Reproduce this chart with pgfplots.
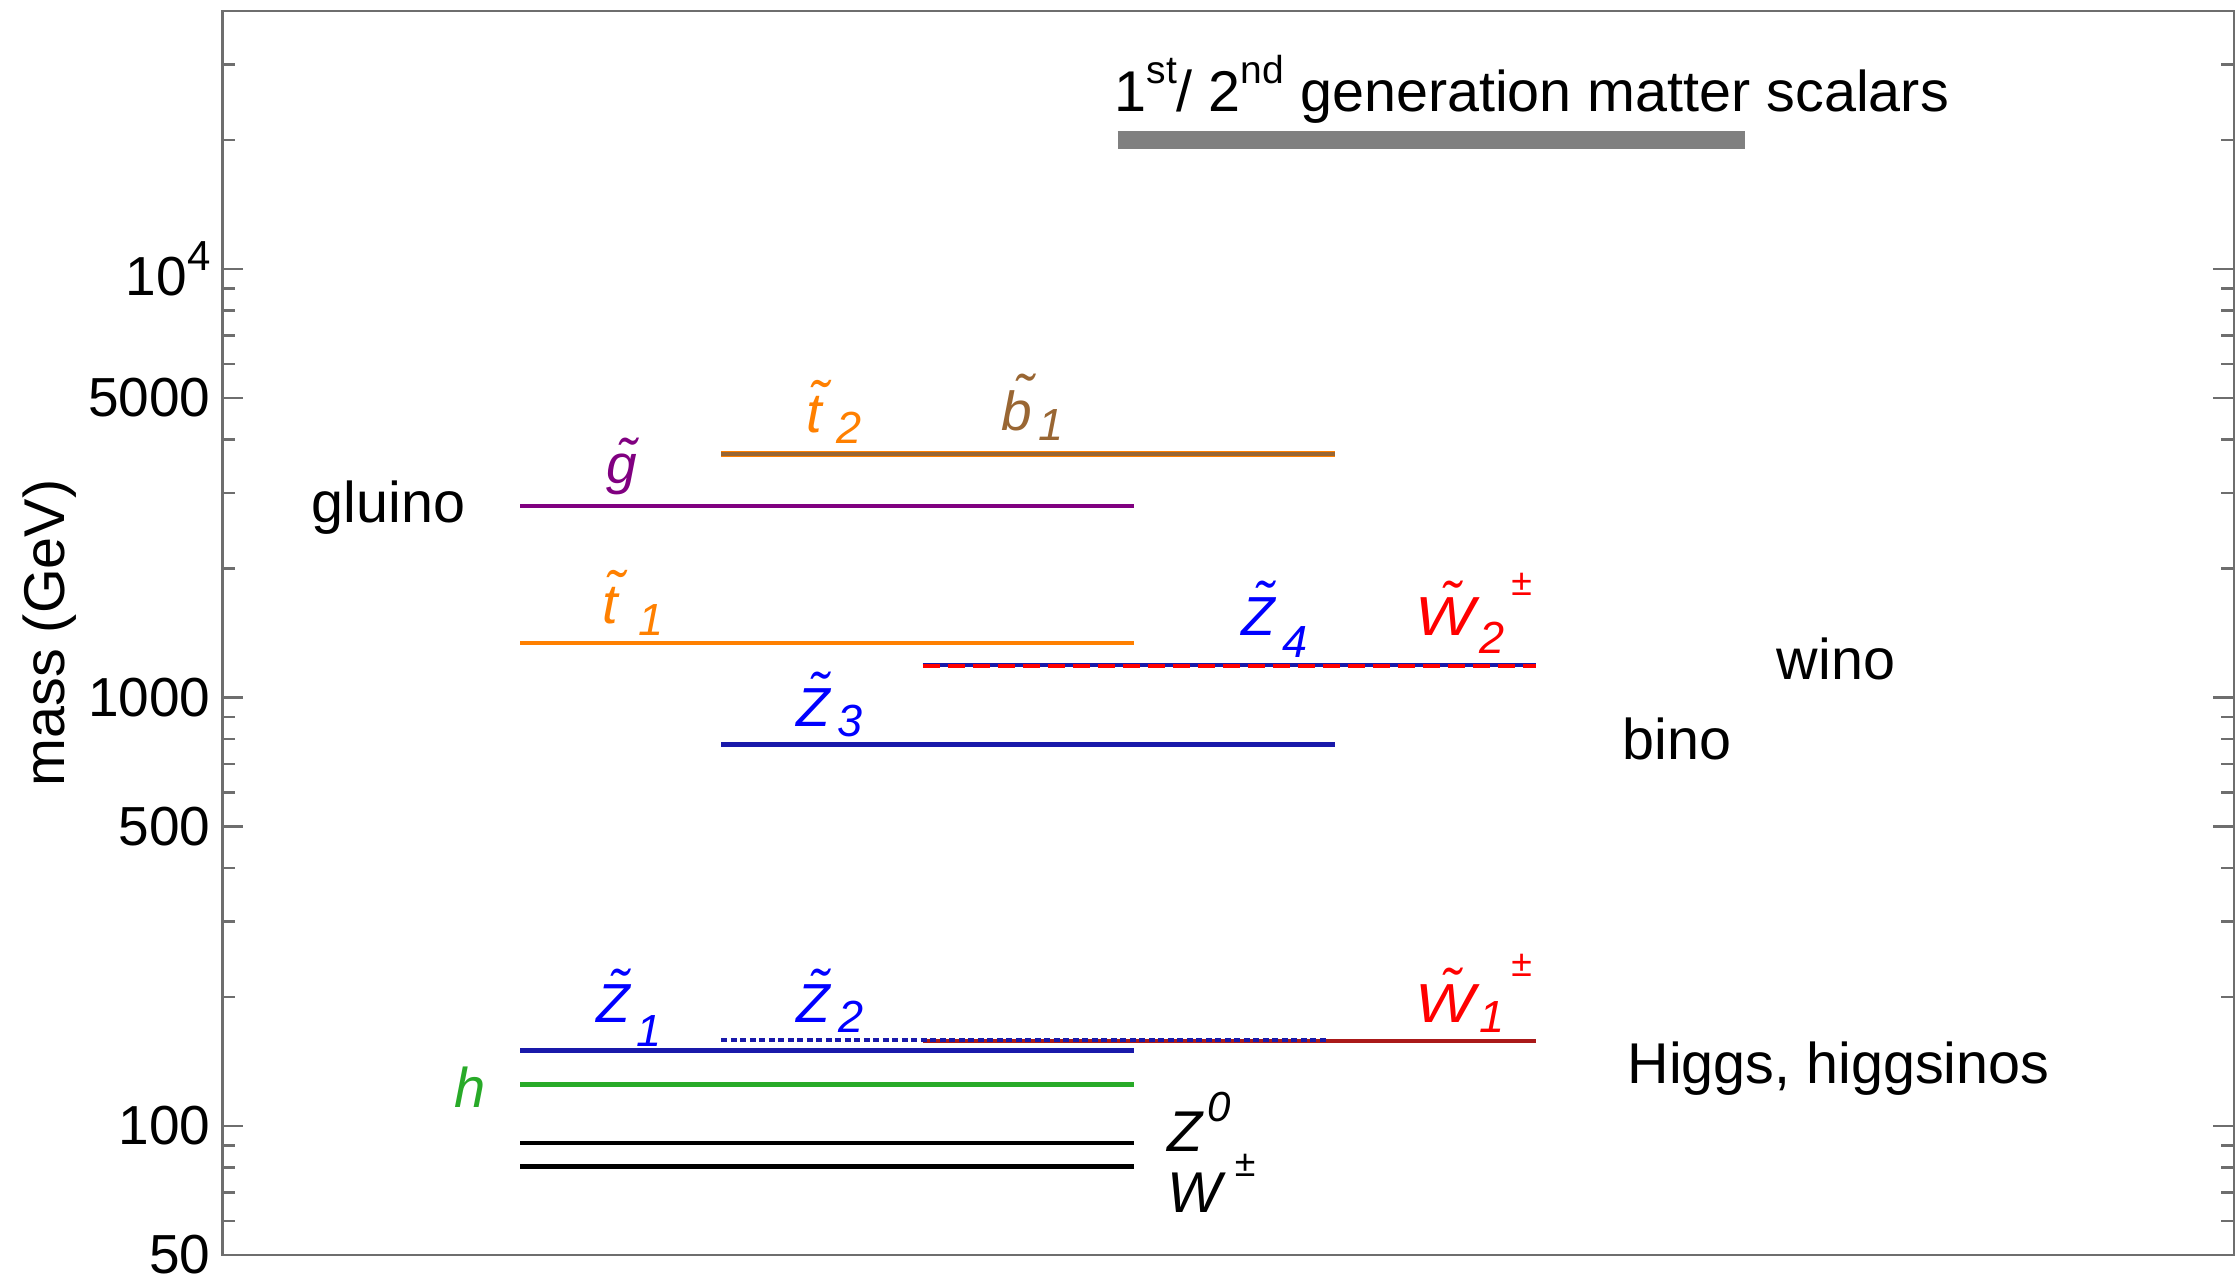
\documentclass[border=0pt]{standalone}
\usepackage{fontspec}
\setmainfont{Liberation Sans}
\usepackage{pgfplots}
\pgfplotsset{compat=1.18}

\definecolor{framegray}{RGB}{110,110,110}
\definecolor{scalargray}{RGB}{128,128,128}
\definecolor{zblue}{RGB}{0,0,255}
\definecolor{zline}{RGB}{25,25,170}
\definecolor{wred}{RGB}{255,0,0}
\definecolor{wline}{RGB}{170,25,25}
\definecolor{torange}{RGB}{255,128,0}
\definecolor{bbrown}{RGB}{153,102,51}
\definecolor{gpurple}{RGB}{128,0,128}
\definecolor{hgreen}{RGB}{40,170,40}

% letter with a tilde set above it
\newcommand{\tl}[1]{\leavevmode\setbox0\hbox{#1}%
  \rlap{\copy0}\hbox to \wd0{\hss\kern0.3\ht0\raisebox{\dimexpr\ht0-1ex+1.2pt\relax}{\char"02DC}\hss}}
% particle label: tilde letter, subscript shifted by #2, dropped by #3
\newcommand{\sparticle}[4]{\rlap{\tl{#1}}\hspace{#2}\raisebox{-#3}{\fontsize{9}{10}\selectfont #4}}
% charge sign placed #1 from the start of the label, raised by #2
\newcommand{\charge}[2]{\rlap{\hspace{#1}\raisebox{#2}{\fontsize{7.5}{8}\selectfont\upshape\char"00B1}}}
\newcommand{\wideW}{\scalebox{1.15}[1]{W}}

\begin{document}
\begin{tikzpicture}
\begin{semilogyaxis}[
  name=ax,
  scale only axis,
  width=402.3pt, height=248.8pt,
  xmin=0, xmax=10, ymin=50, ymax=40000,
  no markers,
  clip=false,
  xtick=\empty,
  ytick={50,100,500,1000,5000,10000},
  yticklabels={50,100,500,1000,5000,{10\raisebox{5pt}{\fontsize{8.4}{9}\selectfont 4}}},
  minor ytick={60,70,80,90,200,300,400,600,700,800,900,2000,3000,4000,6000,7000,8000,9000,20000,30000},
  tick align=inside,
  ytick pos=both,
  yticklabel pos=left,
  major tick length=4.2pt,
  minor tick length=2.6pt,
  axis line style={framegray, line width=0.5pt},
  every tick/.style={framegray, line width=0.5pt},
  yticklabel style={font=\fontsize{11}{13}\selectfont, inner sep=0pt, xshift=-2.2pt},
]

% 1st/2nd generation matter scalars
\addplot[scalargray, line width=3.6pt] coordinates {(4.45,20000) (7.57,20000)};

% third generation squarks
\addplot[torange, line width=1.3pt] coordinates {(2.48,3700) (5.53,3700)};
\addplot[bbrown, line width=0.8pt] coordinates {(2.48,3700) (5.53,3700)};
\addplot[torange, line width=0.9pt] coordinates {(1.48,1340) (4.53,1340)};

% gluino
\addplot[gpurple, line width=0.9pt] coordinates {(1.48,2800) (4.53,2800)};

% heavy neutralinos and chargino
\addplot[zline, line width=0.9pt] coordinates {(3.48,1192) (6.53,1192)};
\addplot[wred, line width=0.9pt, dash pattern=on 3.4pt off 1.6pt] coordinates {(3.48,1186) (6.53,1186)};
\addplot[zline, line width=0.9pt] coordinates {(2.48,777) (5.53,777)};

% light higgsinos
\addplot[wline, line width=0.9pt] coordinates {(3.48,158) (6.53,158)};
\addplot[zline, line width=0.8pt, dash pattern=on 1.2pt off 0.7pt] coordinates {(2.48,158.5) (5.50,158.5)};
\addplot[zline, line width=0.9pt] coordinates {(1.48,150) (4.53,150)};

% Higgs and gauge bosons
\addplot[hgreen, line width=0.9pt] coordinates {(1.48,125) (4.53,125)};
\addplot[black, line width=0.9pt] coordinates {(1.48,91.2) (4.53,91.2)};
\addplot[black, line width=0.9pt] coordinates {(1.48,80.4) (4.53,80.4)};

% particle labels
\begin{scope}[every node/.style={anchor=base west, inner sep=0pt}]
\node[text=gpurple, font=\fontsize{11}{13}\selectfont\itshape] at (axis cs:1.906,3154) {\tl{g}};
\node[text=torange, font=\fontsize{11.2}{13}\selectfont\itshape] at (axis cs:2.896,4147)
  {\sparticle{t}{6pt}{2.2pt}{2}};
\node[text=bbrown, font=\fontsize{11}{13}\selectfont\itshape] at (axis cs:3.870,4192)
  {\sparticle{b}{7.4pt}{2pt}{1}};
\node[text=torange, font=\fontsize{11.2}{13}\selectfont\itshape] at (axis cs:1.882,1488)
  {\sparticle{t}{7.2pt}{2.4pt}{1}};
\node[text=zblue, font=\fontsize{11}{13}\selectfont\itshape] at (axis cs:5.060,1395)
  {\sparticle{Z}{8.2pt}{4.4pt}{4}};
\node[text=wred, font=\fontsize{11}{13}\selectfont\itshape] at (axis cs:5.925,1395)
  {\charge{19.2pt}{8pt}\sparticle{\wideW}{12.9pt}{3.6pt}{2}};
\node[text=zblue, font=\fontsize{11}{13}\selectfont\itshape] at (axis cs:2.848,856)
  {\sparticle{Z}{8.2pt}{2pt}{3}};
\node[text=zblue, font=\fontsize{11}{13}\selectfont\itshape] at (axis cs:1.854,174)
  {\sparticle{Z}{8.1pt}{4.8pt}{1}};
\node[text=zblue, font=\fontsize{11}{13}\selectfont\itshape] at (axis cs:2.848,174)
  {\sparticle{Z}{8.4pt}{2pt}{2}};
\node[text=wred, font=\fontsize{11}{13}\selectfont\itshape] at (axis cs:5.925,174.8)
  {\charge{19.2pt}{9.2pt}\sparticle{\wideW}{12.9pt}{2pt}{1}};
\node[text=hgreen, font=\fontsize{11.2}{13}\selectfont\itshape] at (axis cs:1.146,110.7) {h};
\node[font=\fontsize{11.5}{13}\selectfont\itshape] at (axis cs:4.695,87)
  {\rlap{Z}\hspace{7.9pt}\raisebox{6pt}{\fontsize{8.4}{9}\selectfont 0}};
\node[font=\fontsize{11.5}{13}\selectfont\itshape] at (axis cs:4.695,62.7)
  {\charge{13.4pt}{7.2pt}W};

% group names
\node[font=\fontsize{11.5}{13}\selectfont] at (axis cs:0.440,2559) {gluino};
\node[font=\fontsize{11.5}{13}\selectfont] at (axis cs:7.723,1101) {wino};
\node[font=\fontsize{11.5}{13}\selectfont] at (axis cs:6.956,717) {bino};
\node[font=\fontsize{11.5}{13}\selectfont] at (axis cs:6.980,125.7) {Higgs, higgsinos};
\node[font=\fontsize{11.5}{13}\selectfont] at (axis cs:4.43,23350)
  {1\raisebox{5.6pt}{\fontsize{7.8}{8}\selectfont st}/ 2\raisebox{5.6pt}{\fontsize{7.8}{8}\selectfont nd} generation matter scalars};
\end{scope}

% axis label
\node[rotate=90, anchor=base, inner sep=0pt, font=\fontsize{11.5}{13}\selectfont] at (axis cs:-0.783,1414) {mass (GeV)};
\end{semilogyaxis}
\pgfresetboundingbox
\path[use as bounding box] ([xshift=-44.5pt,yshift=-4.8pt]ax.south west) rectangle ([xshift=0.6pt,yshift=2.2pt]ax.north east);
\end{tikzpicture}
\end{document}
